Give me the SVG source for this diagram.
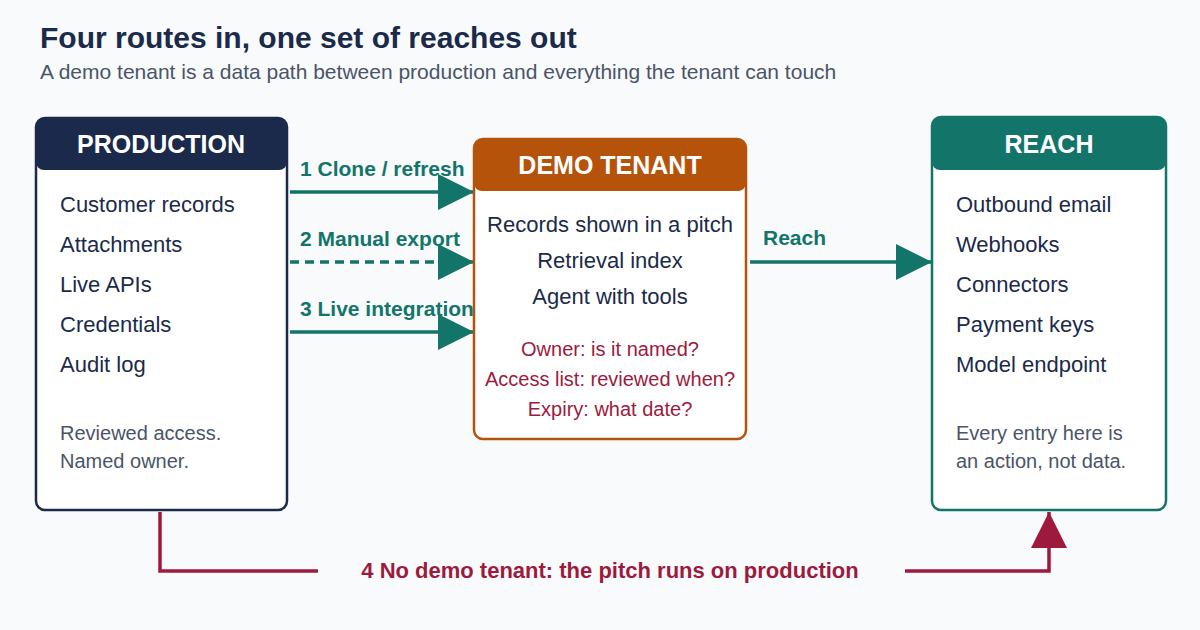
<svg xmlns="http://www.w3.org/2000/svg" width="1200" height="630" viewBox="0 0 1200 630">
<style>
text{font-family:"Liberation Sans",Arial,sans-serif}
.title{font-size:30px;font-weight:bold;fill:#1b2a4a}
.sub{font-size:21px;fill:#4a5568}
.hdr{font-size:25px;font-weight:bold;fill:#fff;text-anchor:middle}
.item{font-size:22px;fill:#1b2a4a}
.note{font-size:20px;fill:#4a5568}
.q{font-size:20px;fill:#9e1a3c;text-anchor:middle}
.lbl{font-size:21px;font-weight:bold;fill:#13756a}
.lbl4{font-size:22px;font-weight:bold;fill:#9e1a3c;text-anchor:middle}
.teal{stroke:#13756a;stroke-width:3.5;fill:none}
.red{stroke:#9e1a3c;stroke-width:3.5;fill:none}
</style>
<defs>
<marker id="ahT" viewBox="0 0 36 36" refX="36" refY="18" markerWidth="36" markerHeight="36" markerUnits="userSpaceOnUse" orient="auto"><path d="M0,0 L36,18 L0,36 z" fill="#13756a"/></marker>
<marker id="ahR" viewBox="0 0 36 36" refX="36" refY="18" markerWidth="36" markerHeight="36" markerUnits="userSpaceOnUse" orient="auto"><path d="M0,0 L36,18 L0,36 z" fill="#9e1a3c"/></marker>
</defs>
<rect width="1200" height="630" fill="#f8fafc"/>
<text class="title" x="40" y="48">Four routes in, one set of reaches out</text>
<text class="sub" x="40" y="79">A demo tenant is a data path between production and everything the tenant can touch</text>

<g id="connectors">
<line class="teal" x1="290" y1="192" x2="474" y2="192" marker-end="url(#ahT)"/>
<line class="teal" x1="290" y1="262" x2="474" y2="262" stroke-dasharray="9 6" marker-end="url(#ahT)"/>
<line class="teal" x1="290" y1="332" x2="474" y2="332" marker-end="url(#ahT)"/>
<line class="teal" x1="750" y1="262" x2="932" y2="262" marker-end="url(#ahT)"/>
<polyline class="red" points="160,512 160,571 318,571"/>
<polyline class="red" points="905,571 1049,571 1049,512" marker-end="url(#ahR)"/>
<text class="lbl" x="300" y="176">1 Clone / refresh</text>
<text class="lbl" x="300" y="246">2 Manual export</text>
<text class="lbl" x="300" y="316">3 Live integration</text>
<text class="lbl" x="763" y="245">Reach</text>
<text class="lbl4" x="610" y="578">4 No demo tenant: the pitch runs on production</text>
</g>

<g id="production">
<rect x="36" y="118" width="251" height="392" rx="9" fill="#fff" stroke="#1b2a4a" stroke-width="2.5"/>
<path d="M36,127 a9,9 0 0 1 9,-9 h233 a9,9 0 0 1 9,9 v35 a8,8 0 0 1 -8,8 h-235 a8,8 0 0 1 -8,-8 z" fill="#1b2a4a"/>
<text class="hdr" x="161" y="153">PRODUCTION</text>
<text class="item" x="60" y="212">Customer records</text>
<text class="item" x="60" y="252">Attachments</text>
<text class="item" x="60" y="292">Live APIs</text>
<text class="item" x="60" y="332">Credentials</text>
<text class="item" x="60" y="372">Audit log</text>
<text class="note" x="60" y="440">Reviewed access.</text>
<text class="note" x="60" y="468">Named owner.</text>
</g>

<g id="demo-tenant">
<rect x="474" y="139" width="272" height="300" rx="9" fill="#fff" stroke="#b5530b" stroke-width="2.5"/>
<path d="M474,148 a9,9 0 0 1 9,-9 h254 a9,9 0 0 1 9,9 v35 a8,8 0 0 1 -8,8 h-256 a8,8 0 0 1 -8,-8 z" fill="#b5530b"/>
<text class="hdr" x="610" y="174">DEMO TENANT</text>
<text class="item" x="610" y="232" text-anchor="middle">Records shown in a pitch</text>
<text class="item" x="610" y="268" text-anchor="middle">Retrieval index</text>
<text class="item" x="610" y="304" text-anchor="middle">Agent with tools</text>
<text class="q" x="610" y="356">Owner: is it named?</text>
<text class="q" x="610" y="386">Access list: reviewed when?</text>
<text class="q" x="610" y="416">Expiry: what date?</text>
</g>

<g id="reach">
<rect x="932" y="117" width="234" height="393" rx="9" fill="#fff" stroke="#13756a" stroke-width="2.5"/>
<path d="M932,126 a9,9 0 0 1 9,-9 h216 a9,9 0 0 1 9,9 v36 a8,8 0 0 1 -8,8 h-218 a8,8 0 0 1 -8,-8 z" fill="#13756a"/>
<text class="hdr" x="1049" y="153">REACH</text>
<text class="item" x="956" y="212">Outbound email</text>
<text class="item" x="956" y="252">Webhooks</text>
<text class="item" x="956" y="292">Connectors</text>
<text class="item" x="956" y="332">Payment keys</text>
<text class="item" x="956" y="372">Model endpoint</text>
<text class="note" x="956" y="440">Every entry here is</text>
<text class="note" x="956" y="468">an action, not data.</text>
</g>
</svg>
